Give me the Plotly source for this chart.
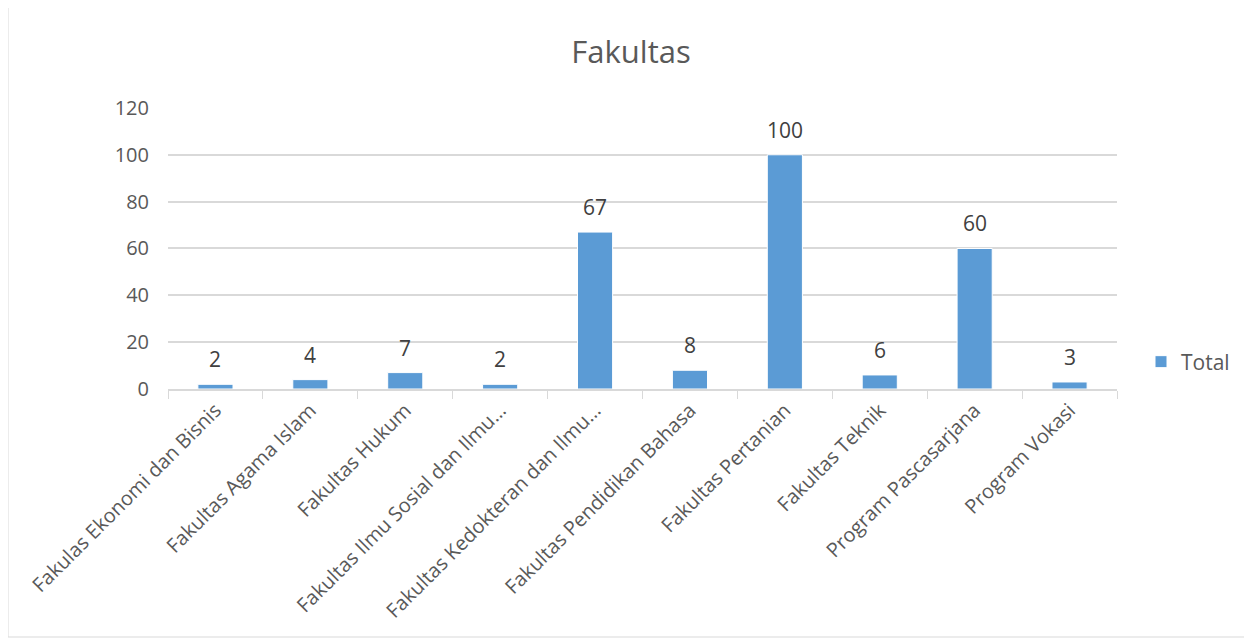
import plotly.graph_objects as go

categories = [
    "Fakulas Ekonomi dan Bisnis",
    "Fakultas Agama Islam",
    "Fakultas Hukum",
    "Fakultas Ilmu Sosial dan Ilmu…",
    "Fakultas Kedokteran dan Ilmu…",
    "Fakultas Pendidikan Bahasa",
    "Fakultas Pertanian",
    "Fakultas Teknik",
    "Program Pascasarjana",
    "Program Vokasi",
]
totals = [2, 4, 7, 2, 67, 8, 100, 6, 60, 3]
y_ticks = [0, 20, 40, 60, 80, 100, 120]

FONT = "Open Sans"
# page is offset by 8px (body margin), so figure coords = page coords - 8
W, H = 1244, 634
L, T, R, B = 160, 99, 135, 253
PW, PH = W - L - R, H - T - B

fig = go.Figure()
fig.add_trace(go.Bar(
    x=categories, y=totals, name="Total",
    marker=dict(color="#5b9bd5", line=dict(color="white", width=1)),
))

for c, v in zip(categories, totals):
    fig.add_annotation(x=c, y=v, text=str(v), showarrow=False, yanchor="bottom",
                       yshift=9, font=dict(family=FONT, size=21, color="#404040"))

fig.update_layout(
    width=W, height=H,
    paper_bgcolor="white", plot_bgcolor="white",
    margin=dict(l=L, r=R, t=T, b=B),
    title=dict(text="Fakultas", x=(631 - 8) / W, xanchor="center", y=1 - (52 - 8) / H, yanchor="middle",
               font=dict(family=FONT, size=31, color="#595959")),
    bargap=0.63,
    showlegend=True,
    legend=dict(x=(1141 - 168) / PW, y=(389 - 362) / PH, xanchor="left", yanchor="middle",
                font=dict(family=FONT, size=21, color="#595959"), bgcolor="rgba(0,0,0,0)",
                itemwidth=30),
    font=dict(family=FONT, color="#595959"),
)
fig.update_xaxes(
    tickangle=-45, tickfont=dict(family=FONT, size=20, color="#595959"),
    showline=True, linecolor="#d9d9d9", linewidth=1.5,
    ticks="outside", tickson="boundaries", ticklen=8, tickcolor="#d9d9d9",
    showgrid=False, fixedrange=True,
)
fig.update_yaxes(
    range=[0, 120.4], tickvals=y_ticks, tickfont=dict(family=FONT, size=20, color="#595959"),
    showgrid=True, gridcolor="#d9d9d9", gridwidth=1.5, zeroline=False,
    showline=False, ticks="", ticklabelstandoff=18,
)
fig.add_shape(type="rect", xref="paper", yref="paper",
              x0=(8 - 168) / PW, x1=(1245 - 168) / PW,
              y0=(389 - 637) / PH, y1=(389 - 7) / PH,
              line=dict(color="#d9d9d9", width=1), layer="below")

fig.write_html("out.html")
